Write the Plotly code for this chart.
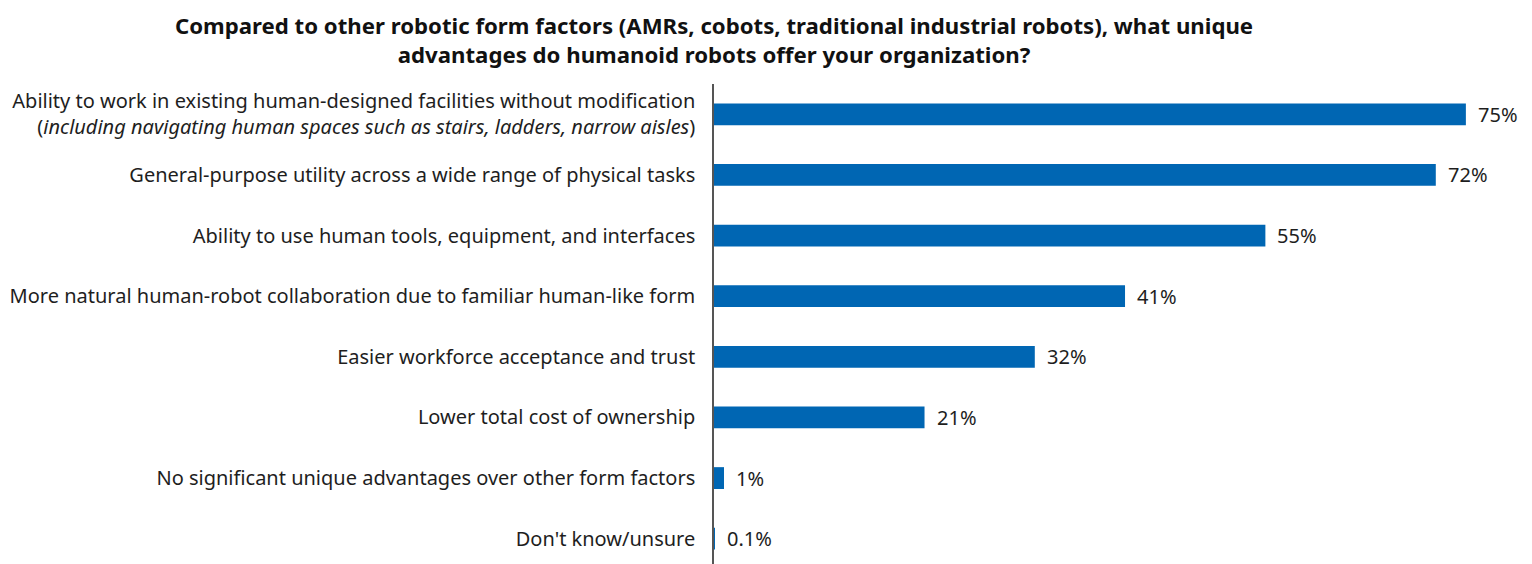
import plotly.graph_objects as go

categories = [
    "Ability to work in existing human-designed facilities without modification<br>"
    "(<i>including navigating human spaces such as stairs, ladders, narrow aisles</i>)",
    "General-purpose utility across a wide range of physical tasks",
    "Ability to use human tools, equipment, and interfaces",
    "More natural human-robot collaboration due to familiar human-like form",
    "Easier workforce acceptance and trust",
    "Lower total cost of ownership",
    "No significant unique advantages over other form factors",
    "Don't know/unsure",
]
values = [75, 72, 55, 41, 32, 21, 1, 0.1]
value_labels = ["75%", "72%", "55%", "41%", "32%", "21%", "1%", "0.1%"]
title_text = ("<b>Compared to other robotic form factors (AMRs, cobots, traditional industrial robots), what unique<br>"
              "advantages do humanoid robots offer your organization?</b>")

BAR_COLOR = "#0066b3"
TEXT_COLOR = "#1e1e1e"
FONT = "Noto Sans"

fig = go.Figure(
    go.Bar(
        x=values,
        y=list(range(len(categories))),
        orientation="h",
        marker={"color": BAR_COLOR, "line": {"width": 0}},
        width=0.36,
        hoverinfo="skip",
        showlegend=False,
    )
)

# value labels just right of each bar
for i, (v, lab) in enumerate(zip(values, value_labels)):
    fig.add_annotation(
        x=v, y=i, text=lab, showarrow=False,
        xanchor="left", xshift=10,
        font={"size": 20, "color": TEXT_COLOR, "family": FONT},
    )

# title as an annotation, centred over the axis line
fig.add_annotation(
    text=title_text, xref="paper", yref="paper",
    x=0, y=1, xanchor="center", yanchor="bottom", yshift=13,
    showarrow=False, align="center", borderpad=0,
    font={"size": 22.2, "color": "#111111", "family": FONT},
)

fig.update_layout(
    width=1532,
    height=564,
    plot_bgcolor="white",
    paper_bgcolor="white",
    margin={"l": 706, "r": 24, "t": 76, "b": 3, "autoexpand": False},
    xaxis={"range": [0, 80], "visible": False},
    yaxis={
        "range": [7.5, -0.5],
        "tickmode": "array",
        "tickvals": list(range(len(categories))),
        "ticktext": categories,
        "showline": True,
        "linecolor": "#555555",
        "linewidth": 1.5,
        "showgrid": False,
        "zeroline": False,
        "ticks": "",
        "ticklabelstandoff": 13,
        "automargin": False,
        "tickfont": {"size": 20, "color": TEXT_COLOR, "family": FONT},
    },
)

fig.write_html("out.html")
